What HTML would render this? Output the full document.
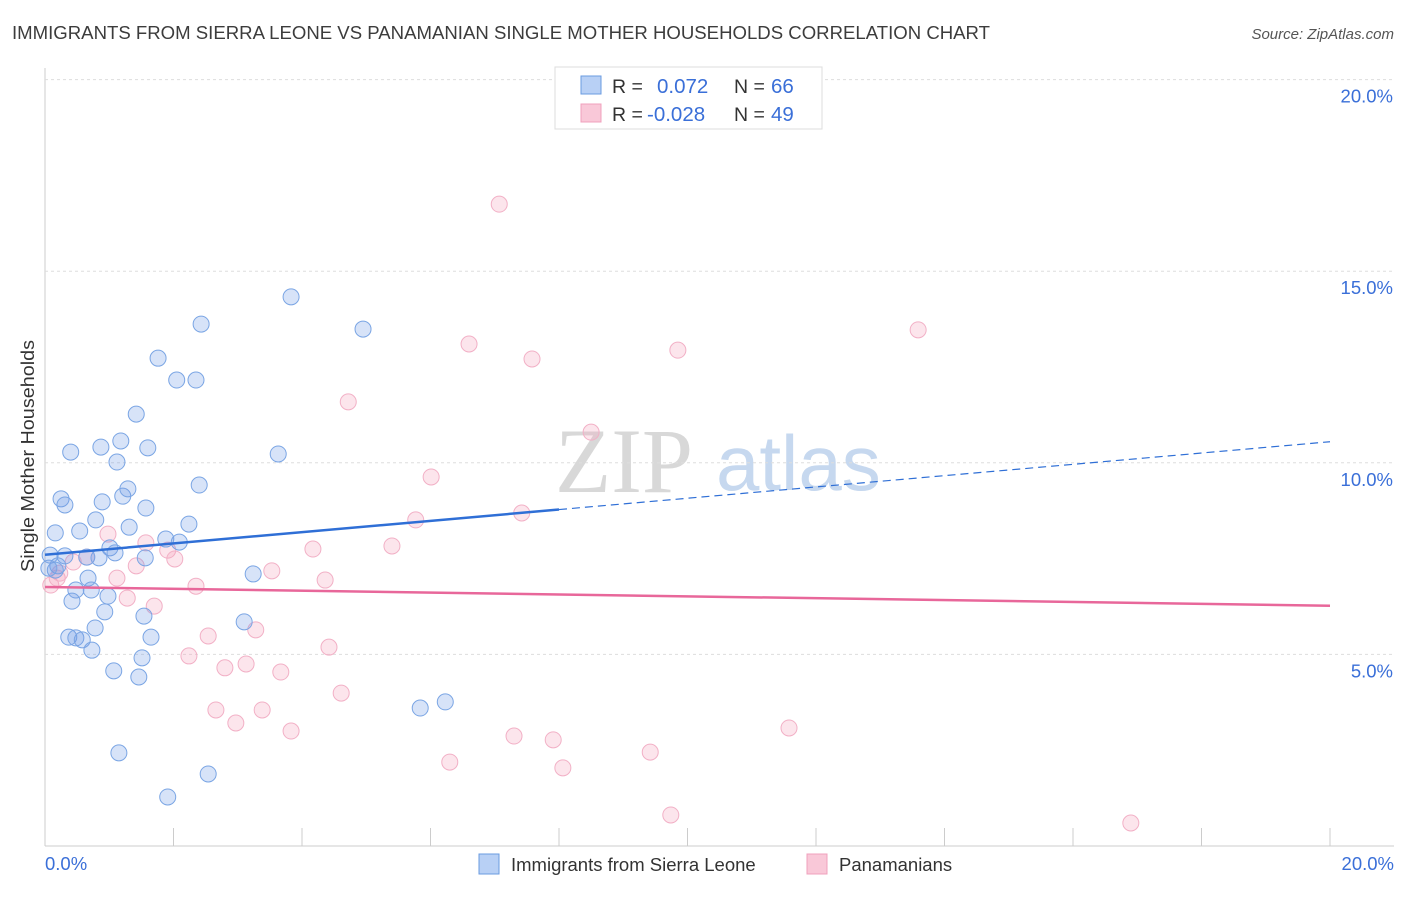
<!DOCTYPE html>
<html><head><meta charset="utf-8"><style>
body{margin:0;background:#fff;font-family:"Liberation Sans",sans-serif;}
</style></head><body>
<svg id="chart" width="1406" height="892" xmlns="http://www.w3.org/2000/svg" font-family="Liberation Sans, sans-serif">
<text x="12" y="39" font-size="18" fill="#3c3c3c" textLength="978" lengthAdjust="spacingAndGlyphs">IMMIGRANTS FROM SIERRA LEONE VS PANAMANIAN SINGLE MOTHER HOUSEHOLDS CORRELATION CHART</text>
<text x="1394" y="39" font-size="15" fill="#555" font-style="italic" text-anchor="end">Source: ZipAtlas.com</text>
<text transform="translate(34,456) rotate(-90)" font-size="18.5" fill="#333" text-anchor="middle" textLength="232" lengthAdjust="spacingAndGlyphs">Single Mother Households</text>
<g><text x="555" y="492" font-size="92" fill="#d8d8d8" font-family="Liberation Serif, serif">ZIP</text><text x="716" y="490" font-size="78" fill="#c6d8ef">atlas</text></g>
<g id="grid"></g><g id="marks"></g>
<g>
<rect x="555" y="67" width="267" height="62" fill="#fff" stroke="#ddd"/>
<rect x="581" y="76" width="20" height="18" fill="#b8d0f5" stroke="#6a9be0"/>
<rect x="581" y="104" width="20" height="18" fill="#f9c8d8" stroke="#f0a0bc"/>
<text x="612" y="93" font-size="19.5" fill="#333">R =</text><text x="657" y="93" font-size="20.5" fill="#3a6fd8">0.072</text>
<text x="734" y="93" font-size="19.5" fill="#333">N =</text><text x="771" y="93" font-size="20.5" fill="#3a6fd8">66</text>
<text x="612" y="121" font-size="19.5" fill="#333">R =</text><text x="647" y="121" font-size="20.5" fill="#3a6fd8">-0.028</text>
<text x="734" y="121" font-size="19.5" fill="#333">N =</text><text x="771" y="121" font-size="20.5" fill="#3a6fd8">49</text>
</g>
<g>
<rect x="479" y="854" width="20" height="20" fill="#b8d0f5" stroke="#6a9be0"/>
<text x="511" y="871" font-size="18.5" fill="#333">Immigrants from Sierra Leone</text>
<rect x="807" y="854" width="20" height="20" fill="#f9c8d8" stroke="#f0a0bc"/>
<text x="839" y="871" font-size="18.5" fill="#333">Panamanians</text>
</g>
</svg>
<script>
const yTicks=[5,10,15,20];
const yTickLabels=["5.0%","10.0%","15.0%","20.0%"];
const xTickLabels=["0.0%","20.0%"];
const blueX=[3.83,2.43,4.95,1.76,2.05,2.35,1.42,0.40,0.87,1.18,1.60,1.12,3.63,2.40,0.25,0.31,0.89,1.21,1.29,1.57,0.79,2.24,1.31,0.16,0.54,1.01,1.88,2.09,1.09,1.56,0.08,0.31,0.84,0.65,0.20,0.16,0.06,3.24,0.67,0.48,0.72,0.98,0.42,0.93,1.54,0.78,3.10,0.37,0.48,0.58,1.65,0.73,1.51,1.07,1.46,5.84,6.23,1.15,2.54,1.91];
const blueY=[14.33,13.62,13.49,12.73,12.16,12.16,11.27,10.28,10.41,10.57,10.39,10.02,10.23,9.42,9.06,8.90,8.98,9.13,9.32,8.82,8.51,8.40,8.32,8.17,8.22,7.78,8.01,7.93,7.65,7.52,7.59,7.57,7.52,7.54,7.31,7.20,7.25,7.10,6.99,6.68,6.68,6.52,6.39,6.11,6.00,5.69,5.85,5.45,5.43,5.38,5.45,5.11,4.91,4.57,4.41,3.60,3.76,2.43,1.88,1.28];
const pinkX=[7.07,6.60,7.58,9.85,13.59,4.72,8.50,6.01,7.42,5.77,0.98,1.57,4.17,5.40,0.65,1.91,2.02,0.44,1.42,1.12,3.53,4.36,2.35,1.28,1.70,0.09,0.19,2.54,3.28,4.42,2.24,3.13,2.80,3.67,4.61,2.66,3.38,2.97,3.83,7.30,7.91,11.58,9.42,6.30,8.06,9.74,16.90,0.23];
const pinkY=[16.75,13.10,12.71,12.94,13.47,11.59,10.80,9.63,8.69,8.51,8.14,7.91,7.75,7.83,7.54,7.72,7.49,7.41,7.31,6.99,7.18,6.94,6.78,6.47,6.26,6.81,6.99,5.48,5.64,5.19,4.96,4.75,4.65,4.54,3.99,3.55,3.55,3.21,3.00,2.87,2.77,3.08,2.45,2.19,2.04,0.81,0.60,7.12];
const blueTrend=[7.6,10.55];
const pinkTrend=[6.76,6.27];
const X=v=>45+v*64.25, Y=v=>846-v*38.32;
const NS="http://www.w3.org/2000/svg";
function mk(t,a,p){const e=document.createElementNS(NS,t);for(const k in a)e.setAttribute(k,a[k]);p.appendChild(e);return e;}
const grid=document.getElementById('grid'),marks=document.getElementById('marks');
mk('line',{x1:45,y1:68,x2:45,y2:846,stroke:'#ccc'},grid);
mk('line',{x1:45,y1:846,x2:1394,y2:846,stroke:'#ccc'},grid);
yTicks.forEach((t,i)=>{
 const l=mk('line',{x1:45,y1:Y(t),x2:1394,y2:Y(t),stroke:'#ddd','stroke-dasharray':'3,3'},grid);
 
 
 const tx=mk('text',{x:1393,y:Y(t)+23,'font-size':18.5,fill:'#3a6fd8','text-anchor':'end'},grid);
 tx.textContent=yTickLabels[i];
 
 
});
for(let i=0;i<=10;i++){const l=mk('line',{x1:X(i*2),y1:828,x2:X(i*2),y2:846,stroke:'#ccc'},grid);
 
 }
[[0,'start',45],[20,'end',1394]].forEach((d,i)=>{const t=mk('text',{x:d[2],y:870,'font-size':18.5,fill:'#3a6fd8','text-anchor':d[1]},grid);t.textContent=xTickLabels[i];
 
 });
function pts(xs,ys,fill,stroke,name){xs.forEach((x,i)=>{const c=mk('circle',{cx:X(x),cy:Y(ys[i]),r:8,fill:fill,stroke:stroke,'stroke-width':1},marks);
 
 });}
pts(pinkX,pinkY,'rgba(244,160,188,0.28)','#f2b0c6','panamanian-point');
pts(blueX,blueY,'rgba(110,155,230,0.28)','#7aa5e4','sierra-leone-point');
const bm=blueTrend[0]+(blueTrend[1]-blueTrend[0])*0.4;
let l=mk('line',{x1:X(0),y1:Y(blueTrend[0]),x2:X(8),y2:Y(bm),stroke:'#2f6fd6','stroke-width':2.5},marks);


l=mk('line',{x1:X(8),y1:Y(bm),x2:X(20),y2:Y(blueTrend[1]),stroke:'#2f6fd6','stroke-width':1.2,'stroke-dasharray':'8,5'},marks);


l=mk('line',{x1:X(0),y1:Y(pinkTrend[0]),x2:X(20),y2:Y(pinkTrend[1]),stroke:'#e8679a','stroke-width':2.5},marks);


</script>
</body></html>
